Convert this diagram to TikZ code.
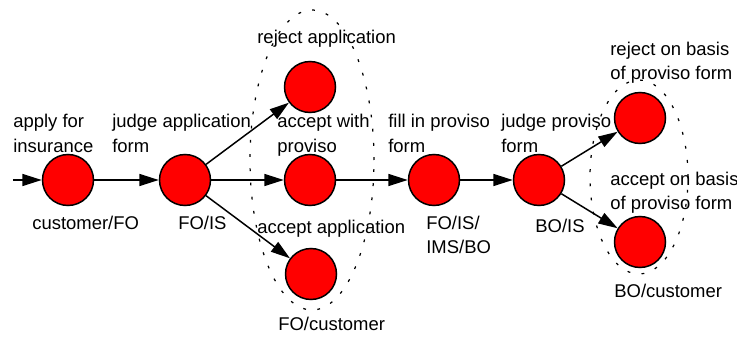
\documentclass[tikz,border=0pt]{standalone}
\usepackage{fontspec}
\setmainfont{Liberation Sans}
\usetikzlibrary{arrows.meta}

\begin{document}
\begin{tikzpicture}[
  task/.style={circle, draw=black, line width=0.85pt, fill=red, minimum size=1.02cm, inner sep=0pt},
  arr/.style={-{Triangle[length=11pt, width=6.8pt]}, line width=0.85pt},
  txt/.style={font=\fontsize{10.5}{14.2}\selectfont, inner sep=0pt, align=left, anchor=base west},
  group/.style={line width=0.7pt, dash pattern=on 1.6pt off 6.5pt},
]
\useasboundingbox (0,0) rectangle (14.74,6.72);

% --- Tasks ---
\coordinate (start) at (0.26,3.12);
\node[task] (apply)   at (1.36,3.12) {};
\node[task] (judge)   at (3.70,3.12) {};
\node[task] (reject)  at (6.20,4.98) {};
\node[task] (proviso) at (6.20,3.12) {};
\node[task] (accept)  at (6.22,1.24) {};
\node[task] (fill)    at (8.68,3.12) {};
\node[task] (judgep)  at (10.78,3.12) {};
\node[task] (rejectp) at (12.80,4.36) {};
\node[task] (acceptp) at (12.80,1.88) {};

% --- Flow ---
\draw[arr] (start) -- (apply);
\draw[arr] (apply) -- (judge);
\draw[arr] (judge) -- (reject);
\draw[arr] (judge) -- (proviso);
\draw[arr] (judge) -- (accept);
\draw[arr] (proviso) -- (fill);
\draw[arr] (fill) -- (judgep);
\draw[arr] (judgep) -- (rejectp);
\draw[arr] (judgep) -- (acceptp);

% --- Choice groups ---
\draw[group] (6.24,3.52) ellipse [x radius=1.24, y radius=3.0];
\draw[group] (12.78,3.18) ellipse [x radius=0.98, y radius=1.94];

% --- Task names (base = last line) ---
\node[txt] (t-apply)   at (0.26,3.68) {apply for\\insurance};
\node[txt] (t-judge)   at (2.24,3.68) {judge application\\form};
\node[txt] (t-reject)  at (5.14,5.84) {reject application};
\node[txt] (t-proviso) at (5.54,3.68) {accept with\\proviso};
\node[txt] (t-accept)  at (5.14,2.06) {accept application};
\node[txt] (t-fill)    at (7.76,3.68) {fill in proviso\\form};
\node[txt] (t-judgep)  at (10.02,3.68) {judge proviso\\form};
\node[txt] (t-rejectp) at (12.20,5.12) {reject on basis\\of proviso form};
\node[txt] (t-acceptp) at (12.20,2.52) {accept on basis\\of proviso form};

% --- Roles ---
\node[txt] (r-apply)   at (0.64,2.14) {customer/FO};
\node[txt] (r-judge)   at (3.56,2.14) {FO/IS};
\node[txt] (r-accept)  at (5.56,0.12) {FO/customer};
\node[txt] (r-fill)    at (8.52,1.64) {FO/IS/\\IMS/BO};
\node[txt] (r-judgep)  at (10.70,2.08) {BO/IS};
\node[txt] (r-acceptp) at (12.28,0.78) {BO/customer};

\end{tikzpicture}
\end{document}
